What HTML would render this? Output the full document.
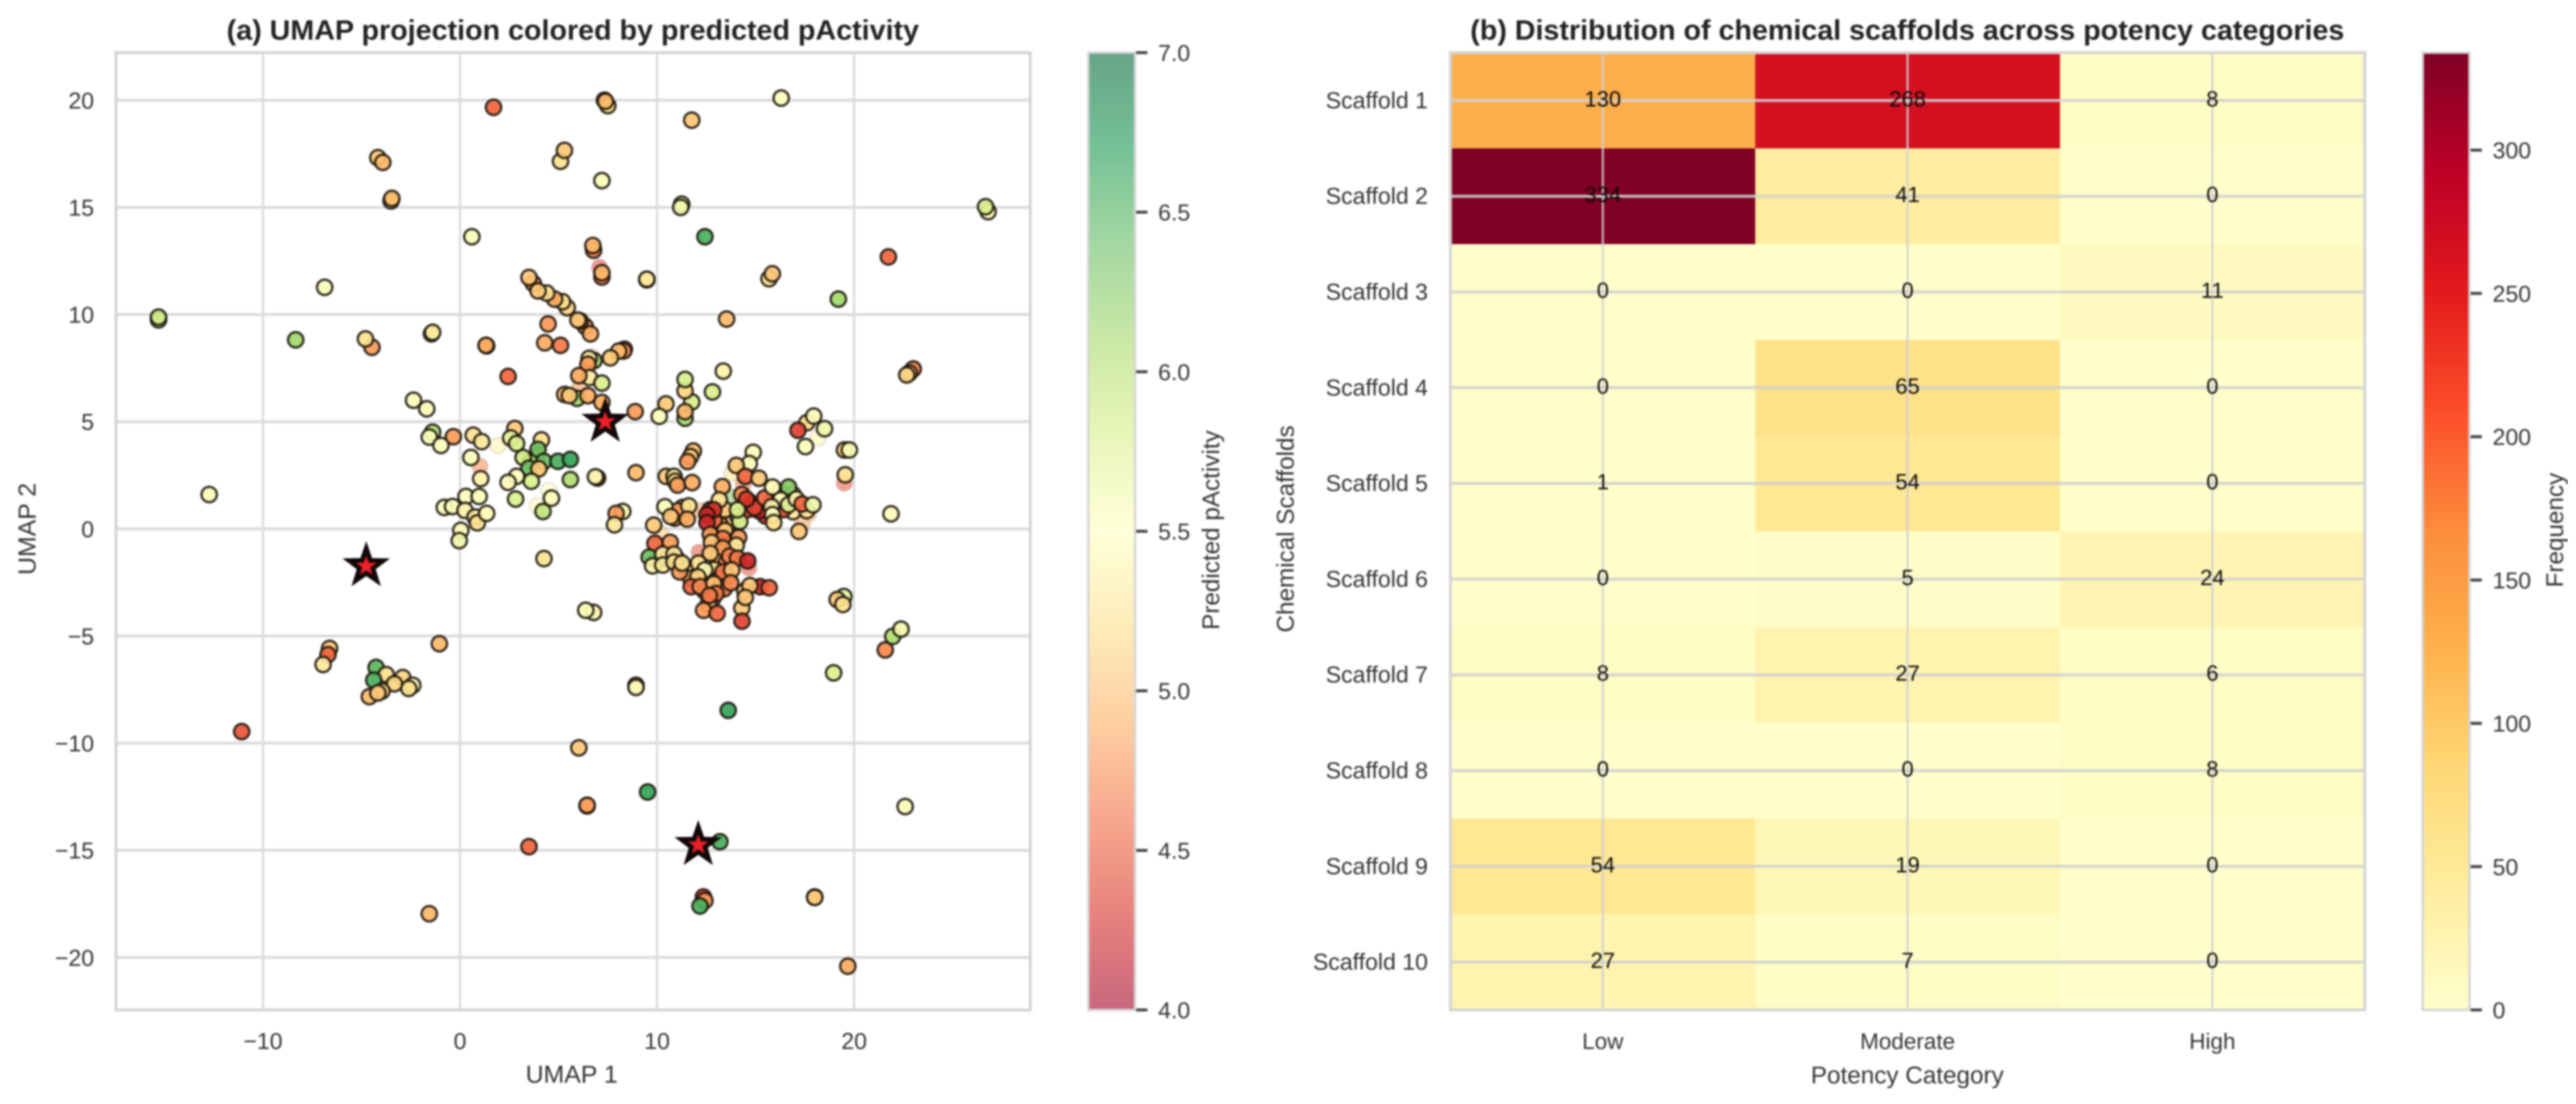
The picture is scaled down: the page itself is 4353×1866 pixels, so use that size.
<!DOCTYPE html>
<html>
<head>
<meta charset="utf-8">
<title>UMAP projection and scaffold distribution</title>
<style>
html,body{margin:0;padding:0;background:#fff;width:4353px;height:1866px;overflow:hidden}
svg{display:block}
text{font-family:"Liberation Sans",sans-serif;fill:#333}
</style>
</head>
<body>
<svg id="fig" xmlns="http://www.w3.org/2000/svg" width="4353" height="1866" viewBox="0 0 4353 1866">
<defs>
<filter id="soft" x="0" y="0" width="100%" height="100%" filterUnits="objectBoundingBox" color-interpolation-filters="sRGB"><feGaussianBlur stdDeviation="1.5"/></filter>
<linearGradient id="grad-a" x1="0" y1="1" x2="0" y2="0"></linearGradient>
<linearGradient id="grad-b" x1="0" y1="1" x2="0" y2="0"></linearGradient>
</defs>
<rect width="4353" height="1866" fill="#fff"/>
<g id="root" filter="url(#soft)">
<text x="968" y="67" text-anchor="middle" font-size="47" font-weight="bold" textLength="1170" lengthAdjust="spacingAndGlyphs" style="fill:#222">(a) UMAP projection colored by predicted pActivity</text>
<text x="3223" y="67" text-anchor="middle" font-size="47" font-weight="bold" textLength="1477" lengthAdjust="spacingAndGlyphs" style="fill:#222">(b) Distribution of chemical scaffolds across potency categories</text>
<text x="966" y="1830" text-anchor="middle" font-size="42">UMAP 1</text>
<text transform="translate(60,894) rotate(-90)" text-anchor="middle" font-size="42">UMAP 2</text>
<text transform="translate(2060,896) rotate(-90)" text-anchor="middle" font-size="41">Predicted pActivity</text>
<text x="3223" y="1831" text-anchor="middle" font-size="41">Potency Category</text>
<text transform="translate(2186,894) rotate(-90)" text-anchor="middle" font-size="41">Chemical Scaffolds</text>
<text transform="translate(4331,896) rotate(-90)" text-anchor="middle" font-size="41">Frequency</text>
</g>
</svg>
<script>
const umap1 = [
13.0,13.6,13.9,13.1,13.5,12.9,13.2,13.6,12.5,12.3,
11.5,11.0,10.5,10.0,11.7,12.4,13.4,12.8,12.6,14.45,
14.3,13.8,13.2,12.9,12.7,14.1,14.6,14.8,14.3,15.5,
16.9,16.4,15.9,16.2,16.9,17.6,11.3,11.3,10.9,12.1,
1.7,7.33,7.5,7.38,11.76,16.3,5.1,5.3,-4.17,-3.92,
-3.5,-3.46,7.2,11.25,11.2,26.8,26.67,0.6,12.43,6.78,
6.74,7.2,7.2,9.48,9.48,15.68,15.85,21.74,19.2,-6.87,
-15.3,-15.3,13.53,-8.34,-4.47,-4.8,-1.45,-1.39,1.35,1.32,
3.72,6.36,6.1,6.62,5.98,5.44,5.2,4.8,4.4,3.96,
3.5,4.47,4.3,5.1,8.34,8.3,8.05,7.63,6.8,6.55,
6.49,6.57,6.03,7.2,2.44,5.94,5.31,5.55,6.49,7.2,
8.89,10.45,10.11,11.42,11.76,11.42,11.42,11.42,12.81,13.36,
23.0,22.8,22.67,17.6,17.15,17.95,18.5,19.51,19.76,17.53,
11.84,11.7,11.55,14.88,14.68,14.02,19.55,21.87,-12.73,-2.36,
-1.69,-1.39,-1.56,-0.34,-0.97,0.67,1.1,0.55,1.05,2.78,
2.57,4.13,3.9,2.87,3.62,3.2,3.96,4.26,4.97,5.6,
3.5,4.0,3.62,2.87,2.44,5.6,6.98,6.87,8.93,2.82,
4.21,4.64,-0.8,-0.38,0.3,0.97,0.25,0.76,0.88,1.35,
0.04,-0.04,4.26,8.26,7.92,7.84,10.46,10.86,10.92,11.04,
11.78,13.31,14.48,15.17,15.17,14.94,14.54,15.46,15.86,16.67,
16.27,16.67,17.07,17.36,17.91,15.81,15.86,15.92,17.2,13.45,
14.2,14.08,13.16,12.88,12.53,12.53,11.04,11.61,10.4,10.69,
11.53,9.83,9.89,10.67,9.6,9.77,10.29,10.86,10.29,10.86,
11.15,11.27,12.7,13.45,14.14,13.34,12.76,14.02,13.34,12.7,
13.68,14.08,14.6,12.42,12.07,13.34,13.79,11.73,12.19,12.88,
13.74,12.99,12.65,12.36,13.05,15.23,15.69,14.71,14.48,14.31,
19.48,19.14,19.43,6.78,6.38,21.96,21.58,22.38,-6.62,-6.7,
-6.95,-1.05,-4.26,-3.75,-2.91,-4.38,-2.4,-2.6,-3.33,-3.96,
-4.6,-4.17,18.96,8.93,8.93,13.61,-11.08,6.03,9.52,6.45,
6.45,22.59,3.5,13.19,12.35,12.43,12.18,18.0,18.0,-1.56,
19.68
];
const umap2 = [
-0.3,-0.5,-0.9,-1.3,-1.6,-1.9,-2.3,-2.2,-2.4,-2.1,
-1.9,-1.4,-1.4,-1.5,-2.3,-2.9,-2.8,-3.3,-3.5,-2.9,
-3.7,0.3,0.2,0.4,0.9,0.6,0.9,1.2,1.6,0.6,
0.8,0.9,1.3,1.7,1.6,0.85,0.6,1.0,0.5,-1.6,
19.67,20.0,19.75,19.95,19.07,20.1,17.15,17.66,17.32,17.1,
15.3,15.42,16.25,15.15,15.0,14.8,15.03,13.63,13.63,13.0,
13.22,11.75,11.95,11.62,11.65,11.67,11.9,12.69,10.72,11.27,
9.75,9.88,9.79,8.82,8.47,8.86,9.1,9.17,8.54,8.56,
11.45,9.44,9.7,9.1,9.74,10.32,10.6,10.72,11.0,11.1,
11.73,9.56,8.68,8.56,8.38,8.3,8.29,7.98,7.85,7.95,
7.68,7.06,7.15,6.8,7.11,6.09,6.27,6.22,6.21,5.9,
5.47,5.83,5.25,5.16,5.92,6.44,6.97,5.47,6.39,7.36,
7.46,7.27,7.18,4.95,4.6,5.26,4.67,3.68,3.68,3.84,
3.63,3.37,3.14,3.57,3.05,2.96,2.52,0.7,1.6,6.0,
5.6,4.51,4.28,4.3,3.89,4.37,4.07,3.33,2.34,4.68,
4.24,4.15,3.4,3.98,3.15,3.33,3.71,3.15,3.15,3.24,
2.83,2.8,2.22,2.45,2.17,2.3,2.37,2.43,2.62,1.39,
0.81,1.43,1.0,1.04,1.51,1.51,0.86,0.55,0.28,0.72,
-0.07,-0.55,-1.39,0.81,0.72,0.19,2.45,2.45,2.22,2.04,
2.16,1.97,2.45,2.36,0.84,0.98,1.39,1.44,1.95,1.95,
1.35,1.12,1.39,1.16,1.12,1.03,0.66,0.29,-0.12,0.89,
0.34,0.89,1.35,0.89,0.66,0.29,0.84,1.07,1.03,0.57,
0.45,0.17,-0.68,-0.63,-1.32,-1.73,-1.18,-1.18,-1.69,-1.55,
-2.01,-1.6,-0.26,-0.08,-0.4,-0.45,-0.63,-0.77,-0.9,-1.14,
-1.27,-1.37,-1.5,-1.92,-2.24,-2.01,-1.92,-2.7,-2.7,-2.56,
-2.52,-3.02,-3.11,-3.8,-3.94,-2.7,-2.75,-2.65,-3.2,-4.31,
-3.16,-3.3,-3.53,-3.9,-3.8,-5.02,-5.65,-4.68,-5.58,-5.87,
-6.33,-5.36,-6.47,-6.8,-6.94,-7.06,-7.3,-7.45,-7.23,-7.57,
-7.83,-7.66,-6.72,-7.3,-7.4,-8.47,-9.46,-10.22,-12.28,-12.93,
-12.9,-12.96,-14.83,-14.6,-17.18,-17.35,-17.6,-17.18,-17.2,-17.96,
-20.41
];
const predicted = [
4.6,4.8,4.6,5.0,4.5,5.2,4.5,4.4,5.3,5.0,
5.3,5.4,5.4,5.3,4.8,4.5,4.5,4.5,5.0,5.0,
5.0,5.0,4.7,4.4,4.2,6.3,4.3,4.2,4.6,4.0,
5.3,4.3,5.5,5.3,5.6,5.2,4.9,5.0,4.6,5.2,
4.4,4.4,5.2,4.9,5.0,5.6,5.2,5.0,5.0,4.9,
5.3,4.9,5.6,5.3,5.7,5.5,5.9,5.6,6.8,4.5,
4.9,4.4,4.9,5.0,5.3,5.2,5.0,4.4,6.3,5.6,
5.8,6.0,4.9,6.3,4.7,5.2,5.3,5.3,4.7,4.8,
4.5,4.6,4.6,4.8,5.0,5.1,5.2,4.8,5.2,5.0,
5.0,4.7,4.8,4.5,5.0,4.6,4.9,5.0,6.3,5.3,
4.7,5.3,4.8,5.9,4.4,6.3,4.9,5.0,4.8,4.8,
4.7,5.0,5.6,6.3,5.9,5.1,5.9,4.9,5.9,5.4,
4.5,5.0,5.1,5.2,4.2,5.5,5.7,5.0,5.6,5.6,
4.9,5.0,4.7,5.5,5.5,5.0,5.2,5.5,5.6,5.6,
5.5,6.2,5.6,4.7,5.6,5.2,5.3,5.6,5.4,5.0,
5.8,5.2,4.3,5.9,6.4,6.0,6.6,6.6,6.8,6.9,
6.6,5.0,5.9,5.5,5.5,6.2,4.4,5.5,4.9,5.9,
6.1,5.5,5.6,5.6,5.6,5.6,5.4,5.3,5.2,5.5,
5.5,5.7,5.2,5.7,4.7,5.3,5.0,5.3,5.2,4.7,
4.8,4.8,4.4,5.0,4.0,4.2,4.1,4.4,5.5,6.5,
5.6,5.8,5.4,4.4,5.7,5.4,5.5,5.2,5.0,5.0,
5.9,5.9,5.2,4.1,4.0,4.0,4.7,5.2,5.6,5.0,
4.8,5.0,4.4,4.7,6.6,5.4,5.3,5.3,5.3,5.2,
4.7,5.2,4.7,5.0,4.7,4.5,5.0,5.3,4.7,5.0,
4.6,4.5,4.0,5.5,5.1,4.5,5.0,4.4,4.6,4.9,
4.6,4.5,4.5,4.7,4.4,4.0,4.4,5.0,5.0,4.2,
5.8,5.0,5.2,5.4,5.6,6.2,4.6,5.7,5.0,4.4,
5.3,4.9,6.7,5.2,5.1,6.8,5.5,5.2,5.1,5.0,
4.9,5.0,5.9,5.2,5.5,6.9,4.3,5.0,6.9,5.2,
4.7,5.6,4.4,6.8,4.1,4.7,6.8,5.2,5.0,4.9,
4.8
];
const faintUmap1 = [7.08,6.66,6.1,1.94,1.01,18.16,3.92,4.51,13.8,14.37,13.8,14.66,12.13,17.7,17.36,19.5,10.17,12.24];
const faintUmap2 = [12.2,8.03,6.68,3.89,2.92,4.24,1.07,1.78,2.6,2.08,1.48,-1.83,-1.09,0.7,0.2,2.13,-0.22,0.85];
const faintPredicted = [4.2,5.2,4.7,5.4,4.6,5.4,5.5,5.5,5.2,4.5,6.5,4.3,4.3,4.9,4.8,4.3,5.0,4.8];
const starUmap1 = [7.37,-4.76,12.09];
const starUmap2 = [5.0,-1.74,-14.75];
const umapXTicks = [-10,0,10,20];
const umapYTicks = [-20,-15,-10,-5,0,5,10,15,20];
const pActivityTicks = ['4.0','4.5','5.0','5.5','6.0','6.5','7.0'];

const scaffolds = ['Scaffold 1','Scaffold 2','Scaffold 3','Scaffold 4','Scaffold 5','Scaffold 6','Scaffold 7','Scaffold 8','Scaffold 9','Scaffold 10'];
const potency = ['Low','Moderate','High'];
const lowCounts = [130,334,0,0,1,0,8,0,54,27];
const moderateCounts = [268,41,0,65,54,5,27,0,19,7];
const highCounts = [8,0,11,0,0,24,6,8,0,0];
const frequencyTicks = [0,50,100,150,200,250,300];

const rdYlGn = ['#a50026','#d73027','#f46d43','#fdae61','#fee08b','#ffffbf','#d9ef8b','#a6d96a','#66bd63','#1a9850','#006837'];
const ylOrRd = ['#ffffcc','#ffeda0','#fed976','#feb24c','#fd8d3c','#fc4e2a','#e31a1c','#bd0026','#800026'];

const NS = 'http://www.w3.org/2000/svg';
const root = document.getElementById('root');
function el(parent, tag, attrs, txt) {
  const e = document.createElementNS(NS, tag);
  for (const k in attrs) e.setAttribute(k, attrs[k]);
  if (txt !== undefined) e.textContent = txt;
  parent.appendChild(e);
  return e;
}
function hexRgb(h) { return [1,3,5].map(i => parseInt(h.substr(i,2),16)); }
function cmap(stops, t) {
  t = Math.max(0, Math.min(1, t)) * (stops.length - 1);
  const i = Math.min(Math.floor(t), stops.length - 2), f = t - i;
  const a = hexRgb(stops[i]), b = hexRgb(stops[i+1]);
  return 'rgb(' + a.map((v,k) => Math.round(v + (b[k]-v)*f)).join(',') + ')';
}
function fillGradient(id, stops) {
  const g = document.getElementById(id);
  stops.forEach((c,i) => el(g, 'stop', {offset: i/(stops.length-1), 'stop-color': c}));
}
fillGradient('grad-a', rdYlGn);
fillGradient('grad-b', ylOrRd);
const pointColor = v => cmap(rdYlGn, (v - 3.7) / 3.7);

const A = {l:196, r:1741, t:89, b:1707};
const xDomA = [-17.46, 28.94], yDomA = [-22.45, 22.22];
const xA = v => A.l + (v - xDomA[0]) / (xDomA[1]-xDomA[0]) * (A.r - A.l);
const yA = v => A.b - (v - yDomA[0]) / (yDomA[1]-yDomA[0]) * (A.b - A.t);
const GRID = '#dcdcdc', SPINE = '#d4d4d4';

const gridA = el(root, 'g', {});


umapXTicks.forEach(v => {
  const line = el(gridA, 'line', {x1:xA(v), x2:xA(v), y1:A.t, y2:A.b, stroke:GRID, 'stroke-width':4});
  
  
  const label = el(root, 'text', {x:xA(v), y:1773, 'text-anchor':'middle', 'font-size':39}, String(v).replace('-','\u2212'));
  
  
});
umapYTicks.forEach(v => {
  const line = el(gridA, 'line', {x1:A.l, x2:A.r, y1:yA(v), y2:yA(v), stroke:GRID, 'stroke-width':5});
  
  
  const label = el(root, 'text', {x:159, y:yA(v)+14, 'text-anchor':'end', 'font-size':39}, String(v).replace('-','\u2212'));
  
  
});
const frameA = el(root, 'rect', {x:A.l, y:A.t, width:A.r-A.l, height:A.b-A.t, fill:'none', stroke:SPINE, 'stroke-width':5});



const faintGroup = el(root, 'g', {});


faintUmap1.forEach((v,i) => {
  const c = el(faintGroup, 'circle', {cx:xA(v), cy:yA(faintUmap2[i]), r:13.5, fill:pointColor(faintPredicted[i]), 'fill-opacity':0.55, stroke:'#999', 'stroke-opacity':0.35, 'stroke-width':2});
  
  
});
const pointGroup = el(root, 'g', {});


umap1.forEach((v,i) => {
  const c = el(pointGroup, 'circle', {cx:xA(v), cy:yA(umap2[i]), r:13, fill:pointColor(predicted[i]), 'fill-opacity':0.93, stroke:'#1a140c', 'stroke-opacity':0.88, 'stroke-width':4});
  
  
});
function starPath(cx, cy, R, r) {
  let d = '';
  for (let i = 0; i < 10; i++) {
    const ang = -Math.PI/2 + i*Math.PI/5, q = i%2 ? r : R;
    d += (i ? 'L' : 'M') + (cx + q*Math.cos(ang)).toFixed(1) + ' ' + (cy + q*Math.sin(ang)).toFixed(1);
  }
  return d + 'Z';
}
starUmap1.forEach((v,i) => {
  const s = el(root, 'path', {d:starPath(xA(v), yA(starUmap2[i]), 30, 12), fill:'#ee2026', stroke:'#120808', 'stroke-width':8, 'stroke-linejoin':'miter'});
  
  
});

const CA = {l:1839, r:1918};
const barA = el(root, 'rect', {x:CA.l, y:A.t, width:CA.r-CA.l, height:A.b-A.t, fill:'url(#grad-a)', 'fill-opacity':0.6, stroke:SPINE, 'stroke-width':4});


pActivityTicks.forEach(t => {
  const y = A.b - (parseFloat(t)-4)/3*(A.b-A.t);
  const tick = el(root, 'line', {x1:CA.r+2, x2:CA.r+21, y1:y, y2:y, stroke:'#444', 'stroke-width':5});
  
  
  const label = el(root, 'text', {x:1957, y:y+14, 'font-size':39}, t);
  
  
});

const B = {l:2451, r:3996, t:89, b:1707};
const freqMax = 334;
const cellW = (B.r-B.l)/potency.length, cellH = (B.b-B.t)/scaffolds.length;
const columns = [lowCounts, moderateCounts, highCounts];
const heat = el(root, 'g', {});


columns.forEach((col,c) => col.forEach((v,r) => {
  const cell = el(heat, 'rect', {x:B.l+c*cellW, y:B.t+r*cellH, width:cellW+0.5, height:cellH+0.5, fill:cmap(ylOrRd, v/freqMax)});
  
  
}));
potency.forEach((name,c) => {
  const x = B.l + (c+0.5)*cellW;
  const line = el(root, 'line', {x1:x, x2:x, y1:B.t, y2:B.b, stroke:'#cfcfcf', 'stroke-opacity':0.9, 'stroke-width':3.5});
  
  
  const label = el(root, 'text', {x:x, y:1773, 'text-anchor':'middle', 'font-size':38}, name);
  
  
});
scaffolds.forEach((name,r) => {
  const y = B.t + (r+0.5)*cellH;
  const line = el(root, 'line', {x1:B.l, x2:B.r, y1:y, y2:y, stroke:'#cfcfcf', 'stroke-opacity':0.9, 'stroke-width':5});
  
  
  const label = el(root, 'text', {x:2413, y:y+13, 'text-anchor':'end', 'font-size':39}, name);
  
  
});
columns.forEach((col,c) => col.forEach((v,r) => {
  const t = el(root, 'text', {x:B.l+(c+0.5)*cellW, y:B.t+(r+0.5)*cellH+10, 'text-anchor':'middle', 'font-size':37, style:'fill:#0a0a0a'}, String(v));
  
  
}));
const frameB = el(root, 'rect', {x:B.l, y:B.t, width:B.r-B.l, height:B.b-B.t, fill:'none', stroke:SPINE, 'stroke-width':5});



const CB = {l:4094, r:4173};
const barB = el(root, 'rect', {x:CB.l, y:B.t, width:CB.r-CB.l, height:B.b-B.t, fill:'url(#grad-b)', stroke:SPINE, 'stroke-width':4});


frequencyTicks.forEach(v => {
  const y = B.b - v/freqMax*(B.b-B.t);
  const tick = el(root, 'line', {x1:CB.r+2, x2:CB.r+21, y1:y, y2:y, stroke:'#444', 'stroke-width':5});
  
  
  const label = el(root, 'text', {x:4212, y:y+14, 'font-size':39}, String(v));
  
  
});
</script>
</body>
</html>
